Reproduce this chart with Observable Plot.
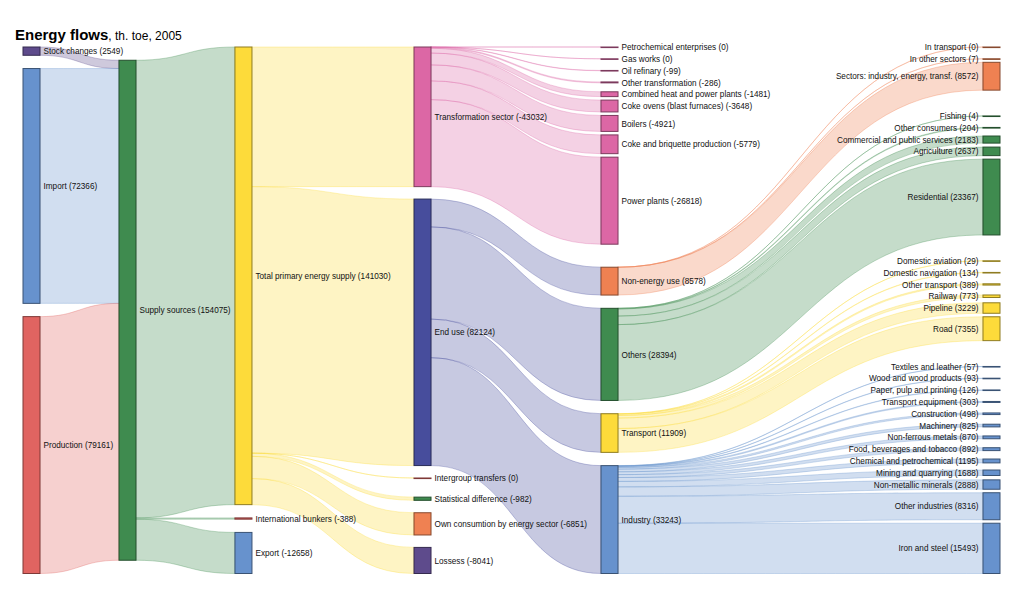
<!DOCTYPE html>
<html><head><meta charset="utf-8">
<script src="https://cdn.jsdelivr.net/npm/d3@7"></script>
<script src="https://cdn.jsdelivr.net/npm/@observablehq/plot@0.6"></script>
<style>
html,body{margin:0;padding:0;background:#fff;overflow:hidden}
#wrap{position:relative;width:1024px;height:607px}
#chart{position:absolute;left:0;top:0}
#title{position:absolute;left:15px;top:27px;font-family:"Liberation Sans",Arial,sans-serif;color:#000;font-size:15px;line-height:15px;white-space:nowrap}
#title b{font-size:15px}
#title span{font-size:12px}
</style></head><body>
<div id="wrap"><div id="chart"></div><div id="title"><b>Energy flows</b><span>, th. toe, 2005</span></div></div>
<script>
// ---------------- DATA ----------------
const nodeNames = [
  "Stock changes","Import","Production",
  "Supply sources",
  "Total primary energy supply","International bunkers","Export",
  "Transformation sector","End use","Intergroup transfers","Statistical difference","Own consumtion by energy sector","Lossess",
  "Petrochemical enterprises","Gas works","Oil refinary","Other transformation","Combined heat and power plants",
  "Coke ovens (blast furnaces)","Boilers","Coke and briquette production","Power plants",
  "Non-energy use","Others","Transport","Industry",
  "In transport","In other sectors","Sectors: industry, energy, transf.",
  "Fishing","Other consumers","Commercial and public services","Agriculture","Residential",
  "Domestic aviation","Domestic navigation","Other transport","Railway","Pipeline","Road",
  "Textiles and leather","Wood and wood products","Paper, pulp and printing","Transport equipment","Construction",
  "Machinery","Non-ferrous metals","Food, beverages and tobacco","Chemical and petrochemical","Mining and quarrying",
  "Non-metallic minerals","Other industries","Iron and steel"
];
const nodeValues = [
  2549,72366,79161,
  154075,
  141030,-388,-12658,
  -43032,82124,0,-982,-6851,-8041,
  0,0,-99,-286,-1481,
  -3648,-4921,-5779,-26818,
  8578,28394,11909,33243,
  0,7,8572,
  4,204,2183,2637,23367,
  29,134,389,773,3229,7355,
  57,93,126,303,498,
  825,870,892,1195,1688,
  2888,8316,15493
];
const linkSource = [
  "Stock changes","Import","Production",
  "Supply sources","Supply sources","Supply sources",
  "Total primary energy supply","Total primary energy supply","Total primary energy supply","Total primary energy supply","Total primary energy supply","Total primary energy supply",
  "Transformation sector","Transformation sector","Transformation sector","Transformation sector","Transformation sector","Transformation sector","Transformation sector","Transformation sector","Transformation sector",
  "End use","End use","End use","End use",
  "Non-energy use","Non-energy use","Non-energy use",
  "Others","Others","Others","Others","Others",
  "Transport","Transport","Transport","Transport","Transport","Transport",
  "Industry","Industry","Industry","Industry","Industry","Industry","Industry","Industry","Industry","Industry","Industry","Industry","Industry"
];
const linkTarget = [
  "Supply sources","Supply sources","Supply sources",
  "Total primary energy supply","International bunkers","Export",
  "Transformation sector","End use","Intergroup transfers","Statistical difference","Own consumtion by energy sector","Lossess",
  "Petrochemical enterprises","Gas works","Oil refinary","Other transformation","Combined heat and power plants","Coke ovens (blast furnaces)","Boilers","Coke and briquette production","Power plants",
  "Non-energy use","Others","Transport","Industry",
  "In transport","In other sectors","Sectors: industry, energy, transf.",
  "Fishing","Other consumers","Commercial and public services","Agriculture","Residential",
  "Domestic aviation","Domestic navigation","Other transport","Railway","Pipeline","Road",
  "Textiles and leather","Wood and wood products","Paper, pulp and printing","Transport equipment","Construction","Machinery","Non-ferrous metals","Food, beverages and tobacco","Chemical and petrochemical","Mining and quarrying","Non-metallic minerals","Other industries","Iron and steel"
];
const linkValue = [
  2549,72366,79161,
  141030,388,12658,
  43032,82124,0,982,6851,8041,
  0,0,99,286,1481,3648,4921,5779,26818,
  8578,28394,11909,33243,
  0,7,8572,
  4,204,2183,2637,23367,
  29,134,389,773,3229,7355,
  57,93,126,303,498,825,870,892,1195,1688,2888,8316,15493
];

// ---------------- STYLE ----------------
const palette = {
  purple:"#5e4b8c", blue:"#6792cd", red:"#e06461", green:"#3f8b4f",
  yellow:"#fddb3a", pink:"#dc67a5", indigo:"#474d9c", orange:"#ef8152"
};
const nodeColorKey = {
  "Stock changes":"purple","Import":"blue","Production":"red","Supply sources":"green",
  "Total primary energy supply":"yellow","International bunkers":"red","Export":"blue",
  "Transformation sector":"pink","End use":"indigo","Intergroup transfers":"red",
  "Statistical difference":"green","Own consumtion by energy sector":"orange","Lossess":"purple",
  "Non-energy use":"orange","Others":"green","Transport":"yellow","Industry":"blue"
};
const FONT = '"Liberation Sans", Arial, sans-serif';

// ---------------- LAYOUT (sankey) ----------------
const TOP = 47, BOTTOM = 573.5, H = BOTTOM - TOP;
const X_LEFT = 23, X_RIGHT = 983, NODE_W = 17;
const COL_POS = [0, 0.1, 0.2208, 0.4073, 0.6021, 1];
const PAD_KY = 10, PAD = 3.5, LABEL_GAP = 11.8, MIN_H = 0.6;
const GROUP_WEIGHT = 2;

const nodes = nodeNames.map((name, i) => ({name, shown: nodeValues[i], index: i, ins: [], outs: []}));
const byName = new Map(nodes.map(d => [d.name, d]));
const links = linkSource.map((s, i) => ({source: byName.get(s), target: byName.get(linkTarget[i]), value: linkValue[i], index: i}));
for (const l of links) { l.source.outs.push(l); l.target.ins.push(l); }
for (const n of nodes) {
  n.value = Math.max(d3.sum(n.ins, l => l.value), d3.sum(n.outs, l => l.value));
  n.depth = 0;
}
let changed = true;
while (changed) {
  changed = false;
  for (const l of links) if (l.target.depth < l.source.depth + 1) { l.target.depth = l.source.depth + 1; changed = true; }
}
for (const n of nodes) {
  const parent = n.ins.length ? n.ins[0].source : n;
  n.color = palette[nodeColorKey[n.name] || nodeColorKey[parent.name]];
}
const nCols = d3.max(nodes, d => d.depth) + 1;
const lastCol = nCols - 1;
const columns = d3.range(nCols).map(c => nodes.filter(d => d.depth === c));
const ky = d3.min(columns, col => (H - (col.length - 1) * PAD_KY) / d3.sum(col, d => d.value));
const Vtot = H / ky;
const pad = PAD / ky, lab = LABEL_GAP / ky;
const parentOf = n => n.ins.length ? n.ins[0].source : null;

for (const col of columns) {
  let prev = null;
  for (const n of col) {
    let y = 0;
    if (prev) y = Math.max(prev.y1 + pad, (prev.y0 + prev.y1) / 2 + lab - n.value / 2);
    n.y0 = y; n.y1 = y + n.value; prev = n;
  }
  const slack = Vtot - prev.y1;
  const single = new Set(col.map(parentOf)).size === 1;
  const w = col.map((n, i) => {
    if (i === 0) return 0;
    if (single) return 1;
    if (parentOf(col[i - 1]) !== parentOf(n)) return GROUP_WEIGHT;
    return (col[i - 1].outs.length && n.outs.length) ? 1 : 0;
  });
  const W = d3.sum(w);
  let shift = W ? 0 : slack / 2;
  col.forEach((n, i) => { if (W) shift += slack * w[i] / W; n.y0 += shift; n.y1 += shift; });
}
const nwFrac = NODE_W / (X_RIGHT - X_LEFT);
for (const n of nodes) { n.x0 = COL_POS[n.depth]; n.x1 = n.x0 + nwFrac; }
for (const n of nodes) {
  n.outs.sort((a, b) => (a.target.y0 - b.target.y0) || (a.index - b.index));
  n.ins.sort((a, b) => (a.source.y0 - b.source.y0) || (a.index - b.index));
  let y = n.y0;
  for (const l of n.outs) { l.sy0 = y; y += l.value; l.sy1 = y; }
  y = n.y0;
  for (const l of n.ins) { l.ty0 = y; y += l.value; l.ty1 = y; }
}
const linkRows = links.flatMap(l => [
  {id: l.index, x: l.source.x1, ya: l.sy0, yb: l.sy1, color: l.source.color},
  {id: l.index, x: l.target.x0, ya: l.ty0, yb: l.ty1, color: l.source.color}
]);
const minH = MIN_H / ky;
const label = d => `${d.name} (${d.shown})`;

const chart = Plot.plot({
  width: 1024, height: 607, margin: 0,
  style: {fontFamily: FONT, background: "#fff"},
  x: {domain: [0, 1], range: [X_LEFT, X_RIGHT], axis: null},
  y: {domain: [0, Vtot], range: [TOP, BOTTOM], axis: null},
  color: {type: "identity"},
  marks: [
    Plot.area(linkRows, {x1: "x", y1: "ya", y2: "yb", z: "id", curve: "bump-x",
      fill: "color", fillOpacity: 0.3, stroke: "color", strokeOpacity: 0.45, strokeWidth: 0.7}),
    Plot.rect(nodes, {x1: "x0", x2: "x1", y1: "y0", y2: d => Math.max(d.y1, d.y0 + minH),
      fill: "color", stroke: d => d3.rgb(d.color).darker(1.6).formatHex(), strokeWidth: 1}),
    Plot.text(nodes.filter(d => d.depth !== lastCol), {x: "x1", y: d => (d.y0 + d.y1) / 2, text: label,
      textAnchor: "start", dx: 3, fontSize: 8.2, fontFamily: FONT, fill: "#111"}),
    Plot.text(nodes.filter(d => d.depth === lastCol), {x: "x0", y: d => (d.y0 + d.y1) / 2, text: label,
      textAnchor: "end", dx: -5, fontSize: 8.2, fontFamily: FONT, fill: "#111"})
  ]
});
document.getElementById("chart").appendChild(chart);
</script>
</body></html>
